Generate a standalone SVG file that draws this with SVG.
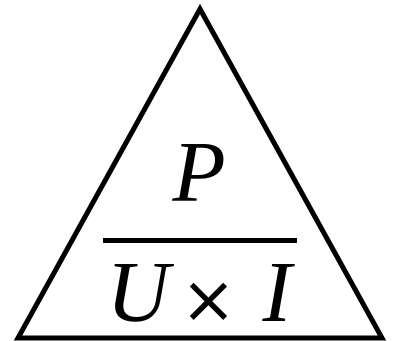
<svg xmlns="http://www.w3.org/2000/svg" width="394" height="341" viewBox="0 0 394 341">
<style>
.shape{fill:none;stroke:#000;stroke-width:5;stroke-linejoin:miter}
.t{font-family:"Liberation Serif",serif;font-style:italic;font-size:87px;fill:#000}
.op{font-family:"DejaVu Sans",sans-serif;font-size:66px;fill:#000}
</style>
<rect width="394" height="341" fill="#fff"/>
<g id="triangle"><polygon class="shape" points="200,9 18,338 382,338"/></g>
<g id="fraction"><line x1="103" y1="240.5" x2="297" y2="240.5" stroke="#000" stroke-width="5"/></g>
<g id="numerator"><text class="t" x="199" y="201" text-anchor="middle">P</text></g>
<g id="denominator"><text class="t" x="138" y="321" text-anchor="middle">U</text><text class="op" x="208.5" y="322" text-anchor="middle">×</text><text class="t" x="277" y="321" text-anchor="middle">I</text></g>
</svg>
